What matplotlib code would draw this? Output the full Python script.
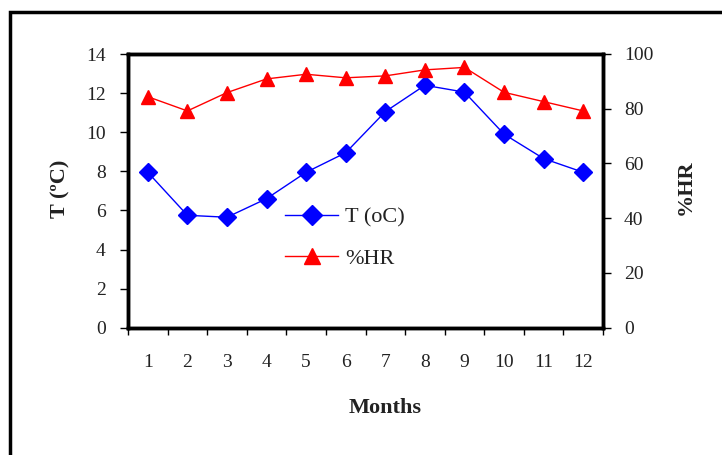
import matplotlib
matplotlib.use("Agg")
import matplotlib.pyplot as plt
from matplotlib.patches import Rectangle
from matplotlib.lines import Line2D

months = list(range(1, 13))
month_labels = [str(m) for m in months]
temp = [7.95, 5.75, 5.65, 6.6, 7.95, 8.95, 11.05, 12.4, 12.05, 9.9, 8.65, 7.95]
hr = [84.4, 79.2, 85.9, 90.9, 92.6, 91.3, 92.0, 94.2, 95.1, 86.0, 82.6, 79.2]

plt.rcParams["font.family"] = ["Liberation Serif", "DejaVu Serif"]
TXT = "#222222"

fig = plt.figure(figsize=(7.22, 4.55), dpi=100)
fig.patches.append(Rectangle((10 / 722, -0.05), 1.2, 1 - 12 / 455 + 0.05,
                             transform=fig.transFigure, fill=False,
                             edgecolor="black", linewidth=2.5))

ax = fig.add_axes([128 / 722, 1 - 327.7 / 455, 475 / 722, 273.7 / 455])
ax2 = ax.twinx()

ax.plot(months, temp, color="#0000ff", linewidth=1, marker="D", markersize=9,
        markerfacecolor="#0000ff", markeredgecolor="#0000ff", zorder=3)
ax2.plot(months, hr, color="#ff0000", linewidth=1, marker="^", markersize=10,
         markerfacecolor="#ff0000", markeredgecolor="#ff0000", zorder=3)

ax.set_xlim(0.5, 12.5)
ax.set_ylim(0, 14)
ax2.set_ylim(0, 100)
ax.set_yticks(range(0, 15, 2))
ax2.set_yticks(range(0, 101, 20))
ax.set_xticks([m + 0.5 for m in range(0, 13)])
ax.set_xticklabels([])
ax.set_xticks(months, minor=True)
ax.set_xticklabels(month_labels, minor=True)

for a in (ax, ax2):
    for s in a.spines.values():
        s.set_linewidth(2.5)
ax.tick_params(axis="x", which="major", direction="out", length=5, width=1)
ax.tick_params(axis="x", which="minor", length=0, pad=19, labelsize=14,
               labelcolor=TXT)
ax.tick_params(axis="y", direction="out", length=6, width=1, labelsize=14,
               pad=10, labelcolor=TXT)
ax2.tick_params(axis="y", direction="out", length=6, width=1, labelsize=14,
                pad=9, labelcolor=TXT)

fig.text(385 / 722, 1 - 408 / 455, "Months", ha="center", va="center",
         fontsize=16, fontweight="bold", color=TXT)
fig.text(60 / 722, 1 - 189 / 455, "T (ºC)", ha="center", va="center",
         rotation=90, fontsize=16, fontweight="bold", color=TXT)
fig.text(686 / 722, 1 - 187 / 455, "%HR", ha="center", va="center",
         rotation=90, fontsize=16, fontweight="bold", color=TXT)

handles = [Line2D([], [], color="#0000ff", linewidth=1, marker="D", markersize=10),
           Line2D([], [], color="#ff0000", linewidth=1, marker="^", markersize=11)]
ax.legend(handles, ["T (oC)", "%HR"], loc="upper left",
          bbox_to_anchor=(137 / 475, 1 - 133 / 273.7), frameon=False,
          fontsize=16, handlelength=2.4, labelspacing=0.95, handletextpad=0.3,
          labelcolor=TXT)

fig.savefig("out.png", dpi=100)
